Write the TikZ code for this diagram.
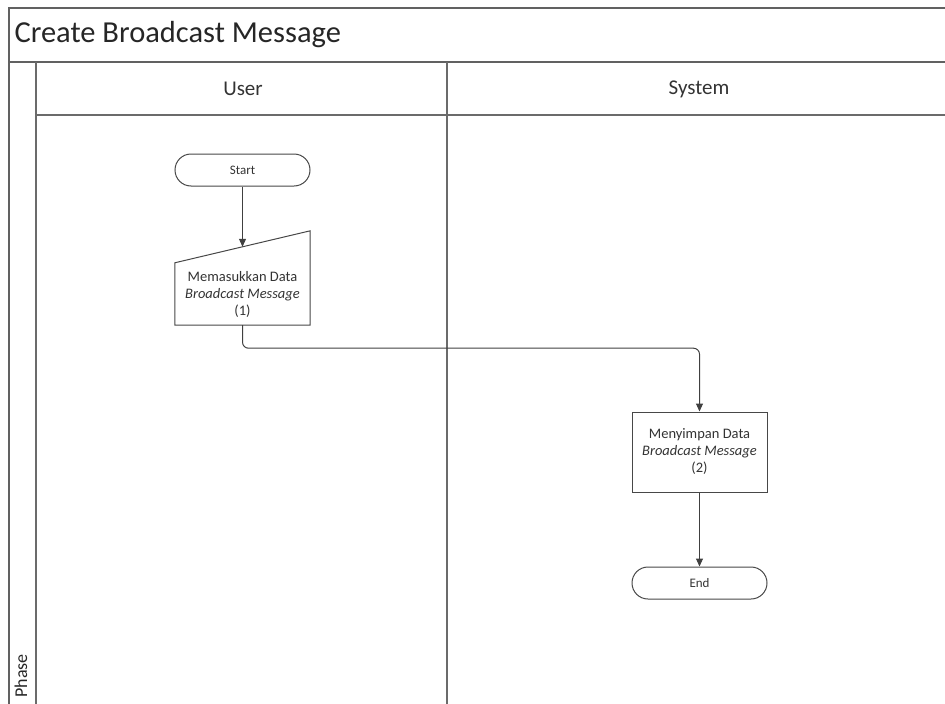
\documentclass[tikz,border=0pt]{standalone}
\usepackage{fontspec}
\setmainfont{Carlito}
\usetikzlibrary{arrows.meta,calc}

\begin{document}
\begin{tikzpicture}[x=1pt,y=-1pt,
  frame/.style={draw=black!62,line width=1.3pt},
  lane/.style={draw=black!58,line width=1.1pt},
  term/.style={draw=black!72,line width=1pt,rounded corners=16pt,
    minimum width=135pt,minimum height=32pt,inner sep=0pt,
    font=\fontsize{13}{15}\selectfont,text=black!80},
  procbox/.style={draw=black!72,line width=1pt,minimum width=135pt,
    minimum height=80pt,inner sep=0pt,align=center,
    font=\fontsize{14.5}{17}\selectfont,text=black!80},
  flow/.style={draw=black!75,line width=1pt,rounded corners=6pt,
    -{Triangle[length=8pt,width=7pt]}},
  hdr/.style={font=\fontsize{21}{24}\selectfont,text=black!80},
]
\useasboundingbox (0,0) rectangle (945,704);

% pool and lanes
\begin{scope}
  \clip (0,0) rectangle (945,704);
  \draw[frame] (960,8) -- (9,8) -- (9,712);
  \draw[frame] (9,62) -- (960,62);
  \draw[lane] (36,115) -- (960,115);
  \draw[lane] (36,62) -- (36,712);
  \draw[lane] (447,62) -- (447,712);
\end{scope}

\node[anchor=west,font=\fontsize{30.5}{33}\selectfont,text=black!85] (title) at (11,35) {Create Broadcast Message};
\node[rotate=90,font=\fontsize{18}{20}\selectfont,text=black!85] (phase) at (21,676) {Phase};
\node[hdr] (userhdr) at (243,89) {User};
\node[hdr] (syshdr) at (699,89) {System};

% flow shapes
\node[term] (start) at (242.5,170) {Start};

\node[minimum width=135pt,minimum height=62pt,inner sep=0pt,align=center,
  font=\fontsize{14.5}{17}\selectfont,text=black!80] (input) at (242.5,294)
  {Memasukkan Data\\\textit{Broadcast Message}\\(1)};
\draw[draw=black!72,line width=1pt] (input.south west) -- (input.south east)
  -- ($(input.north east)+(0,-32)$) -- (input.north west) -- cycle;
\coordinate (inputtop) at ($(input.north)+(0,-16)$);

\node[procbox] (store) at (699.5,452) {Menyimpan Data\\\textit{Broadcast Message}\\(2)};
\node[term] (end) at (699.5,583) {End};

% connectors
\draw[flow] (start) -- (inputtop);
\draw[flow] (input.south) -- ++(0,23) -| (store.north);
\draw[flow] (store) -- (end);
\end{tikzpicture}
\end{document}
